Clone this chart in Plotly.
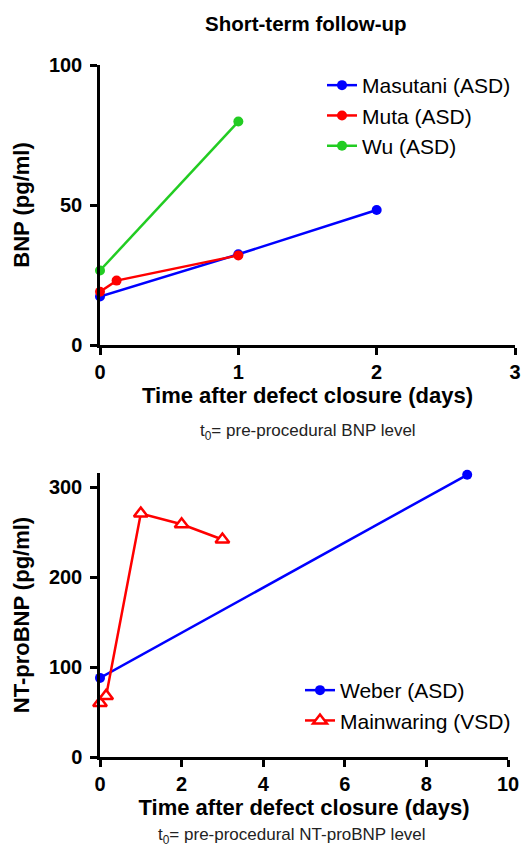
import plotly.graph_objects as go

# ---- data: short-term BNP ----
masutani_x = [0, 1, 2]
masutani_y = [17.3, 32.4, 48.2]
muta_x = [0, 0.12, 1]
muta_y = [19.0, 23.0, 32.0]
wu_x = [0, 1]
wu_y = [26.6, 79.8]

# ---- data: short-term NT-proBNP ----
weber_x = [0, 9]
weber_y = [88, 314]
mainwaring_x = [0, 0.15, 1, 2, 3]
mainwaring_y = [60, 68, 271, 259, 242]

top_xticks = [0, 1, 2, 3]
top_yticks = [0, 50, 100]
bot_xticks = [0, 2, 4, 6, 8, 10]
bot_yticks = [0, 100, 200, 300]

BLUE = "#0000FF"
RED = "#FF0000"
GREEN = "#22CC22"
FONT = "Liberation Sans, Arial, sans-serif"

fig = go.Figure()

def line_trace(x, y, name, color, xa, ya, legend, open_=False):
    marker = dict(size=10, color=color, symbol="circle")
    if open_:
        marker = dict(size=12, color="white", symbol="triangle-up",
                      line=dict(color=color, width=2.5))
    return go.Scatter(x=x, y=y, name=name, mode="lines+markers",
                      line=dict(color=color, width=2.5), marker=marker,
                      xaxis=xa, yaxis=ya, legend=legend, cliponaxis=False)

fig.add_trace(line_trace(masutani_x, masutani_y, "Masutani (ASD)", BLUE, "x", "y", "legend"))
fig.add_trace(line_trace(muta_x, muta_y, "Muta (ASD)", RED, "x", "y", "legend"))
fig.add_trace(line_trace(wu_x, wu_y, "Wu (ASD)", GREEN, "x", "y", "legend"))
fig.add_trace(line_trace(weber_x, weber_y, "Weber (ASD)", BLUE, "x2", "y2", "legend2"))
fig.add_trace(line_trace(mainwaring_x, mainwaring_y, "Mainwaring (VSD)", RED, "x2", "y2", "legend2", open_=True))

axis_common = dict(showline=True, linecolor="black", linewidth=2.5, ticks="outside",
                   ticklen=7, tickwidth=2.5, tickcolor="black", showgrid=False,
                   zeroline=False, automargin=False,
                   tickfont=dict(family=FONT, size=20, color="black", weight="bold"),
                   fixedrange=True)

W, H = 529, 847
ml, mr, mt, mb = 100, 14, 65, 90
pw = W - ml - mr
ph = H - mt - mb

def xfrac(px):
    return (px - ml) / pw

def yfrac(py):
    return (H - mb - py) / ph

xt_font = dict(size=22, family=FONT, weight="bold")
leg_font = dict(size=21, family=FONT, color="black")

fig.update_layout(
    width=W, height=H,
    margin=dict(l=ml, r=mr, t=mt, b=mb, autoexpand=False),
    paper_bgcolor="white", plot_bgcolor="white",
    font=dict(family=FONT, color="black"),
    xaxis=dict(axis_common, domain=[0, 1], range=[0, 3], tickvals=top_xticks, anchor="y",
               ticklabelstandoff=0,
               title=dict(text="Time after defect closure (days)", font=xt_font, standoff=3)),
    yaxis=dict(axis_common, domain=[yfrac(345), 1], range=[0, 100], tickvals=top_yticks,
               anchor="x", ticklabelstandoff=4,
               title=dict(text="BNP (pg/ml)", font=xt_font, standoff=14)),
    xaxis2=dict(axis_common, domain=[0, xfrac(508)], range=[0, 10], tickvals=bot_xticks,
                anchor="y2", ticklabelstandoff=0,
                title=dict(text="Time after defect closure (days)", font=xt_font, standoff=3)),
    yaxis2=dict(axis_common, domain=[0, yfrac(473)], range=[0, 316], tickvals=bot_yticks,
                anchor="x2", ticklabelstandoff=4,
                title=dict(text="NT-proBNP (pg/ml)", font=xt_font, standoff=14)),
    legend=dict(x=xfrac(322), y=yfrac(65), xanchor="left", yanchor="top",
                font=leg_font, bgcolor="rgba(0,0,0,0)",
                tracegroupgap=0, itemwidth=30),
    legend2=dict(x=xfrac(300), y=yfrac(670), xanchor="left", yanchor="top",
                 font=leg_font, bgcolor="rgba(0,0,0,0)",
                 tracegroupgap=0, itemwidth=30),
    showlegend=True,
    annotations=[
        dict(text="<b>Short-term follow-up</b>", x=xfrac(306), y=yfrac(23),
             xref="paper", yref="paper", xanchor="center", yanchor="middle", showarrow=False,
             font=dict(size=20.5, family=FONT, color="black")),
        dict(text="t<sub>0</sub>= pre-procedural BNP level", x=xfrac(308), y=yfrac(432),
             xref="paper", yref="paper", xanchor="center", yanchor="middle", showarrow=False,
             font=dict(size=17, family=FONT, color="#222222")),
        dict(text="t<sub>0</sub>= pre-procedural NT-proBNP level", x=xfrac(292), y=yfrac(836),
             xref="paper", yref="paper", xanchor="center", yanchor="middle", showarrow=False,
             font=dict(size=17, family=FONT, color="#222222")),
    ],
)

fig.write_html("out.html", config={"displayModeBar": False},
               post_script="document.body.style.margin='0';document.body.style.overflow='hidden';")
